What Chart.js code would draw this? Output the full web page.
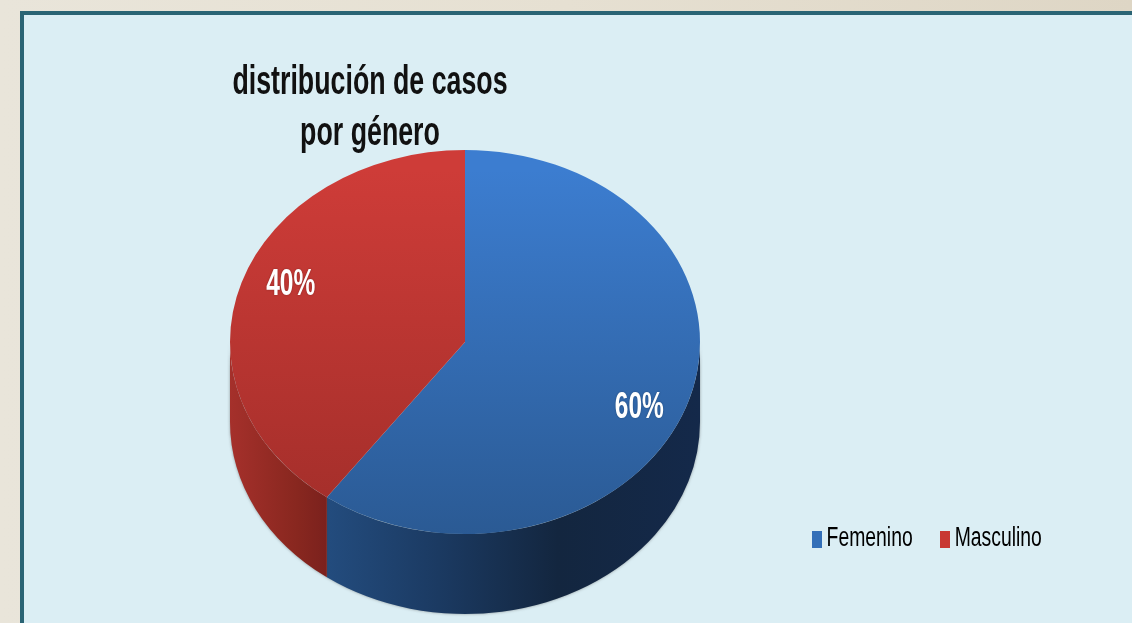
<!DOCTYPE html>
<html><head><meta charset="utf-8">
<style>
html,body{margin:0;padding:0;width:1132px;height:623px;overflow:hidden;background:linear-gradient(90deg,#E9E5DA 0%,#E6E0D2 50%,#DED6C5 100%);}
#panel{position:absolute;left:20px;top:11px;width:1112px;height:612px;box-sizing:border-box;background:#DBEEF4;border:solid #2A6474;border-width:4px 0 0 4px;filter:blur(0.5px);}
#wrap{position:absolute;left:0;top:0;width:1132px;height:623px;filter:blur(0.7px);}
</style>
<script src="https://cdn.jsdelivr.net/npm/chart.js@4"></script>
</head><body>
<div id="panel"></div>
<div id="wrap"><canvas id="c" width="1132" height="623"></canvas></div>
<script>
const categories = ['Femenino', 'Masculino'];
const values = [60, 40];
const titleLines = ['distribución de casos', 'por género'];
const legendColors = ['#336FB8', '#C83833'];

const FONT = '"Liberation Sans",Arial,sans-serif';
const SQUASH = 0.817, DEPTH = 80, CX = 465, CY = 342, RX = 235;
const RY = RX * SQUASH;
const TITLE_NARROW = 0.669, LEGEND_NARROW = 0.717, LABEL_NARROW = 0.68;

function linear(ctx, x0, y0, x1, y1, stops){
  const g = ctx.createLinearGradient(x0, y0, x1, y1);
  stops.forEach(s => g.addColorStop(s[0], s[1]));
  return g;
}
const topFill = (ctx, a, b) => linear(ctx, 0, 112, 0, 572, [[0, a], [1, b]]);
const wallStops = [
  [[0, '#234C7E'], [0.3, '#1B3A62'], [0.62, '#13263F'], [1, '#14294A']],
  [[0, '#A5302B'], [0.7, '#88271F'], [1, '#7B211D']]
];
const wallRange = [[326, 700], [230, 326]];

function legendSwatch(color){
  const cv = document.createElement('canvas');
  cv.width = 14; cv.height = 17;
  const c = cv.getContext('2d');
  c.fillStyle = color;
  c.fillRect(0, 0, 14, 17);
  return cv;
}

function narrowDraw(box, cx, k){
  const draw = box.draw;
  box.draw = function(area){
    const ctx = box.ctx;
    ctx.save();
    ctx.translate(cx, 0);
    ctx.scale(k, 1);
    ctx.translate(-(box.left + box.right) / 2, 0);
    draw.call(box, area);
    ctx.restore();
  };
}

const pie3d = {
  id: 'pie3d',
  afterLayout(chart){
    const t = chart.titleBlock, l = chart.legend;
    if (!t._narrowed) {
      t._narrowed = true;
      narrowDraw(t, 370, TITLE_NARROW);
      narrowDraw(l, 929, LEGEND_NARROW);
    }
    const th = t.bottom - t.top;
    t.top = 57; t.bottom = t.top + th;
    const lh = l.bottom - l.top;
    l.top = 522 - lh / 2; l.bottom = l.top + lh;
  },
  beforeDatasetsDraw(chart){
    const ctx = chart.ctx, arcs = chart.getDatasetMeta(0).data;
    arcs.forEach((arc, i) => {
      const from = Math.max(arc.startAngle, 0), to = Math.min(arc.endAngle, Math.PI);
      if (to <= from) return;
      ctx.save();
      ctx.shadowColor = 'rgba(60,60,60,0.5)';
      ctx.shadowBlur = 3;
      ctx.beginPath();
      ctx.ellipse(CX, CY, RX, RY, 0, from, to);
      ctx.ellipse(CX, CY + DEPTH, RX, RY, 0, to, from, true);
      ctx.closePath();
      ctx.fillStyle = linear(ctx, wallRange[i][0], 0, wallRange[i][1], 0, wallStops[i]);
      ctx.fill();
      ctx.restore();
    });
    ctx.save();
    ctx.translate(CX, CY);
    ctx.scale(1, SQUASH);
    ctx.translate(-arcs[0].x, -arcs[0].y);
  },
  afterDatasetsDraw(chart){
    const ctx = chart.ctx, arcs = chart.getDatasetMeta(0).data;
    ctx.restore();
    const total = values.reduce((p, v) => p + v, 0);
    const nudge = [20, -11];
    arcs.forEach((arc, i) => {
      const m = (arc.startAngle + arc.endAngle) / 2, r = 0.78;
      const x = CX + Math.cos(m) * RX * r, y = CY + Math.sin(m) * RY * r + nudge[i];
      ctx.save();
      ctx.translate(x, y);
      ctx.scale(LABEL_NARROW, 1);
      ctx.fillStyle = '#fff';
      ctx.font = 'bold 36px ' + FONT;
      ctx.textAlign = 'center';
      ctx.textBaseline = 'middle';
      ctx.shadowColor = 'rgba(0,0,0,0.3)';
      ctx.shadowBlur = 2;
      ctx.fillText(Math.round(values[i] / total * 100) + '%', 0, 0);
      ctx.restore();
    });
  }
};

new Chart(document.getElementById('c'), {
  type: 'pie',
  data: {
    labels: categories,
    datasets: [{
      data: values,
      borderWidth: 0,
      hoverOffset: 0,
      backgroundColor: c => {
        const ctx = c.chart.ctx;
        return c.dataIndex === 0 ? topFill(ctx, '#3C7DD0', '#2A5992') : topFill(ctx, '#CE3C38', '#A02D29');
      }
    }]
  },
  options: {
    responsive: false,
    animation: false,
    events: [],
    layout: { padding: { left: 230, right: 432, top: -20, bottom: -20 } },
    plugins: {
      tooltip: { enabled: false },
      title: {
        display: true,
        text: titleLines,
        color: '#111',
        font: { family: FONT, size: 40, weight: 'bold', lineHeight: 1.29 },
        padding: 0,
        fullSize: false
      },
      legend: {
        display: true,
        position: 'bottom',
        fullSize: false,
        labels: {
          color: '#333',
          font: { family: FONT, size: 27 },
          usePointStyle: true,
          pointStyleWidth: 1,
          boxHeight: 17,
          padding: 44,
          generateLabels: () => categories.map((n, i) => ({
            text: n,
            fillStyle: legendColors[i],
            strokeStyle: 'transparent',
            lineWidth: 0,
            pointStyle: legendSwatch(legendColors[i]),
            index: i
          }))
        }
      }
    }
  },
  plugins: [pie3d]
});
</script>
</body></html>
